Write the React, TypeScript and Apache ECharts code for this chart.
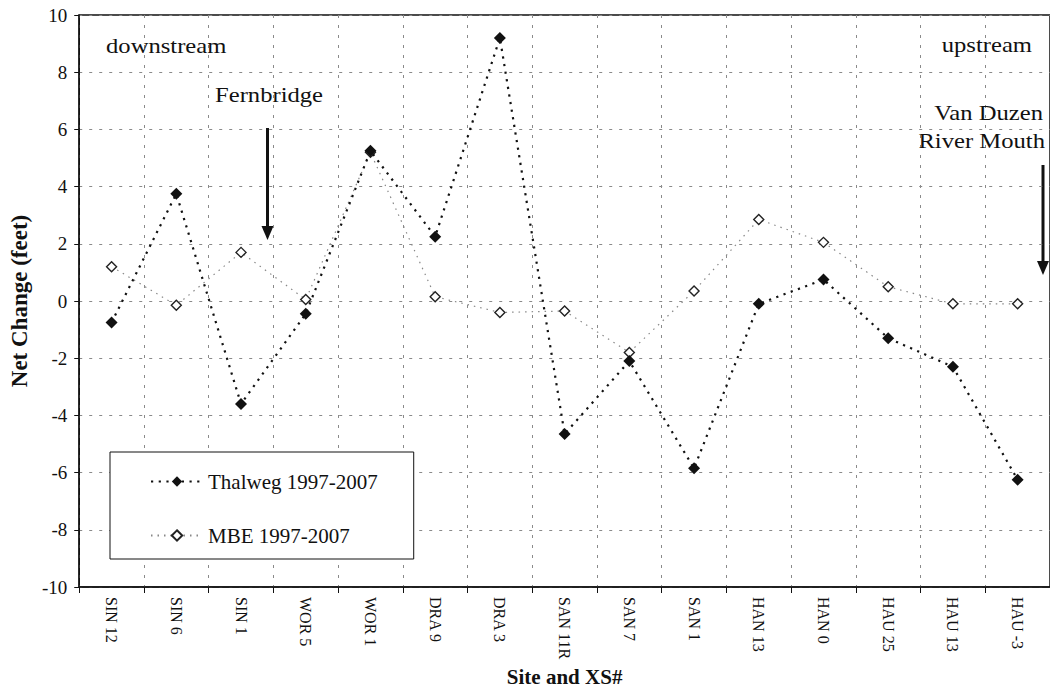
import React, { useEffect, useRef } from 'react';
import * as echarts from 'echarts';

// Cross-section sites, ordered downstream -> upstream
const categories = [
  'SIN 12', 'SIN 6', 'SIN 1', 'WOR 5', 'WOR 1', 'DRA 9', 'DRA 3', 'SAN 11R',
  'SAN 7', 'SAN 1', 'HAN 13', 'HAN 0', 'HAU 25', 'HAU 13', 'HAU -3',
];

// Net change in feet, 1997-2007
const thalweg = [-0.75, 3.75, -3.6, -0.45, 5.25, 2.25, 9.2, -4.65, -2.1, -5.85, -0.1, 0.75, -1.3, -2.3, -6.25];
const mbe = [1.2, -0.15, 1.7, 0.05, 5.2, 0.15, -0.4, -0.35, -1.8, 0.35, 2.85, 2.05, 0.5, -0.1, -0.1];

const yMin = -10;
const yMax = 10;
const yStep = 2;

const SERIF = "'Liberation Serif', serif";
const INK = '#111';
const GRID_LINE = { color: '#8a8a8a', type: [3, 7], width: 1 };

export default function App() {
  const ref = useRef<HTMLDivElement>(null);

  useEffect(() => {
    const chart = echarts.init(ref.current!, null, { renderer: 'svg' });

    const note = (text: string, x: number, y: number, align: 'left' | 'right') => ({
      type: 'text',
      x,
      y,
      scaleX: 1.12,
      z: 50,
      style: {
        text,
        fill: INK,
        fontFamily: SERIF,
        fontSize: 22,
        textAlign: align,
        textVerticalAlign: 'middle',
      },
    });

    const arrow = (x: number, y0: number, y1: number) => ({
      type: 'group',
      z: 50,
      children: [
        { type: 'line', shape: { x1: x, y1: y0, x2: x, y2: y1 - 12 }, style: { stroke: INK, lineWidth: 3 } },
        {
          type: 'polygon',
          shape: { points: [[x - 6, y1 - 14], [x + 6, y1 - 14], [x, y1]] },
          style: { fill: INK },
        },
      ],
    });

    chart.setOption({
      animation: false,
      backgroundColor: '#fff',
      grid: {
        left: 77,
        right: -9.5,
        top: 15,
        bottom: 107,
        show: true,
        borderColor: INK,
        borderWidth: 1.5,
        backgroundColor: 'transparent',
      },
      legend: {
        data: ['Thalweg 1997-2007', 'MBE 1997-2007'],
        orient: 'vertical',
        left: 110,
        top: 452,
        padding: [19, 36, 13, 40],
        itemGap: 33,
        itemWidth: 52,
        itemHeight: 13,
        backgroundColor: '#fff',
        borderColor: INK,
        borderWidth: 1,
        textStyle: { fontFamily: SERIF, fontSize: 21, color: INK },
      },
      xAxis: {
        type: 'category',
        data: categories,
        boundaryGap: true,
        name: 'Site and XS#',
        nameLocation: 'middle',
        nameGap: 79,
        nameTextStyle: { fontFamily: SERIF, fontWeight: 'bold', fontSize: 21, color: INK },
        axisLine: { onZero: false, lineStyle: { color: INK, width: 1.5 } },
        axisTick: { show: true, length: 6, lineStyle: { color: INK } },
        axisLabel: { rotate: -90, fontFamily: SERIF, fontSize: 16, color: INK, margin: 10 },
        splitLine: { show: true, lineStyle: GRID_LINE },
      },
      yAxis: {
        type: 'value',
        min: yMin,
        max: yMax,
        interval: yStep,
        name: 'Net Change (feet)',
        nameLocation: 'middle',
        nameGap: 47,
        nameRotate: 90,
        nameTextStyle: { fontFamily: SERIF, fontWeight: 'bold', fontSize: 23, color: INK },
        axisLine: { show: true, onZero: false, lineStyle: { color: INK, width: 1.5 } },
        axisTick: { show: true, length: 5, lineStyle: { color: INK } },
        axisLabel: { fontFamily: SERIF, fontSize: 19, color: INK, margin: 12 },
        splitLine: { show: true, lineStyle: GRID_LINE },
      },
      series: [
        {
          name: 'MBE 1997-2007',
          type: 'line',
          data: mbe,
          z: 3,
          symbol: 'diamond',
          symbolSize: 10,
          lineStyle: { color: '#888', width: 1.2, type: [1.5, 5] },
          itemStyle: { color: '#fff', borderColor: '#222', borderWidth: 1.4 },
        },
        {
          name: 'Thalweg 1997-2007',
          type: 'line',
          data: thalweg,
          z: 4,
          symbol: 'diamond',
          symbolSize: 12,
          lineStyle: { color: INK, width: 2.2, type: [2.2, 5.5] },
          itemStyle: { color: INK, borderColor: INK, borderWidth: 0 },
        },
      ],
      graphic: [
        note('downstream', 106, 45.5, 'left'),
        note('Fernbridge', 215, 94.5, 'left'),
        note('upstream', 1032, 44.5, 'right'),
        note('Van Duzen', 1043, 112, 'right'),
        note('River Mouth', 1045, 140.5, 'right'),
        arrow(267.5, 128, 240),
        arrow(1043, 165, 275),
      ],
    });

    return () => chart.dispose();
  }, []);

  return (
    <div
      ref={ref}
      style={{ position: 'absolute', left: 0, top: 0, width: 1050, height: 694, background: '#fff' }}
    />
  );
}
